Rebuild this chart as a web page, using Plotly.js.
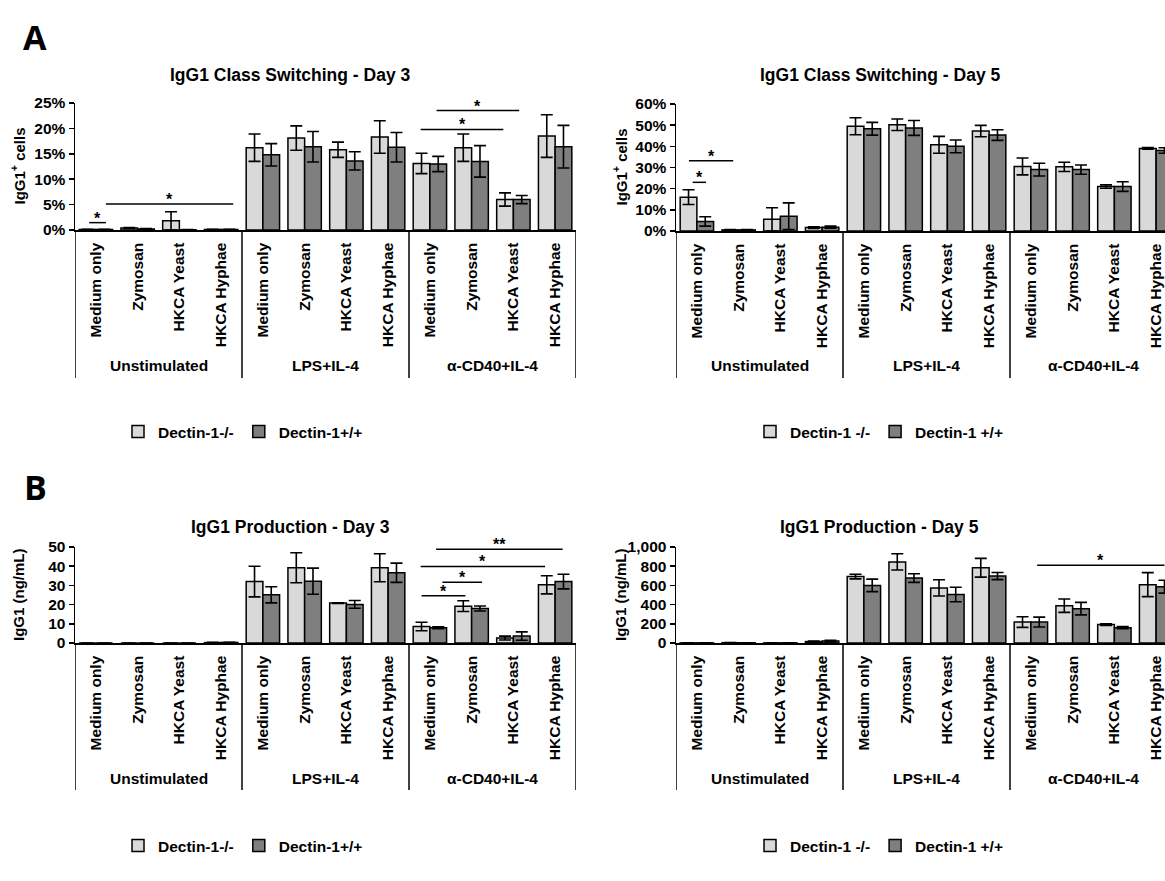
<!DOCTYPE html>
<html><head><meta charset="utf-8">
<script src="https://cdn.plot.ly/plotly-3.0.1.min.js"></script>
<style>html,body{margin:0;padding:0;overflow:hidden;background:#fff;} #chart{width:1200px;height:881px;}</style>
</head><body><div id="chart"></div>
<script>
// ---------- DATA ----------
const categories = ['Medium only','Zymosan','HKCA Yeast','HKCA Hyphae',
                    'Medium only','Zymosan','HKCA Yeast','HKCA Hyphae',
                    'Medium only','Zymosan','HKCA Yeast','HKCA Hyphae'];
const groups = ['Unstimulated','LPS+IL-4','α-CD40+IL-4'];
const namesLeft = ['Dectin-1-/-','Dectin-1+/+'];
const namesRight = ['Dectin-1 -/-','Dectin-1 +/+'];

// IgG1 Class Switching - Day 3 (% IgG1+ cells)
const sw3KO    = [0.1, 0.4, 1.8, 0.1, 16.2, 18.1, 15.8, 18.3, 13.1, 16.2, 6.0, 18.5];
const sw3KOErr = [0.05,0.1, 1.8, 0.05,2.7, 2.4, 1.5, 3.2, 2.0, 2.7, 1.3, 4.2];
const sw3WT    = [0.1, 0.2, 0.05,0.1, 14.8, 16.4, 13.6, 16.3, 13.0, 13.5, 6.0, 16.4];
const sw3WTErr = [0.05,0.1, 0.02,0.05,2.2, 3.0, 1.8, 2.9, 1.5, 3.1, 0.8, 4.2];

// IgG1 Class Switching - Day 5
const sw5KO    = [16.0, 0.5, 5.5, 1.6, 49.5, 50.2, 40.7, 47.2, 30.5, 30.3, 21.0, 39.0];
const sw5KOErr = [3.5, 0.2, 5.5, 0.4, 4.0, 2.7, 4.0, 2.7, 4.0, 2.2, 0.8, 0.4];
const sw5WT    = [4.5, 0.5, 7.0, 1.8, 48.3, 48.7, 40.0, 45.3, 29.0, 29.0, 21.0, 38.0];
const sw5WTErr = [2.2, 0.2, 6.3, 0.5, 3.0, 3.5, 3.0, 2.5, 3.0, 2.2, 2.3, 1.3];

// IgG1 Production - Day 3 (ng/mL)
const pr3KO    = [0, 0, 0, 0.2, 32.0, 39.2, 20.8, 39.2, 8.6, 19.2, 2.6, 30.3];
const pr3KOErr = [0, 0, 0, 0.1, 8.0, 7.8, 0.2, 7.3, 2.2, 2.8, 1.0, 4.7];
const pr3WT    = [0, 0, 0, 0.3, 25.1, 32.2, 20.1, 36.6, 8.0, 18.0, 3.6, 32.0];
const pr3WTErr = [0, 0, 0, 0.1, 4.2, 6.8, 2.0, 5.0, 0.5, 1.3, 2.2, 3.8];

// IgG1 Production - Day 5 (ng/mL)
const pr5KO    = [1, 3, 1, 15, 692, 845, 574, 784, 218, 389, 192, 608];
const pr5KOErr = [0, 2, 0, 5, 24, 85, 85, 98, 55, 70, 8, 125];
const pr5WT    = [1, 2, 1, 20, 600, 676, 505, 697, 218, 358, 160, 587];
const pr5WTErr = [0, 1, 0, 8, 65, 45, 75, 37, 52, 65, 12, 67];

// y-axis tick values
const ticksSw3 = [0, 5, 10, 15, 20, 25];
const ticksSw5 = [0, 10, 20, 30, 40, 50, 60];
const ticksPr3 = [0, 10, 20, 30, 40, 50];
const ticksPr5 = [0, 200, 400, 600, 800, 1000];

// significance brackets: [from, to, height, label]
const sigSw3 = [[-0.16, 0.24, 1.45, '*'], [0.24, 3.29, 5.1, '*'], [7.78, 9.76, 19.8, '*'], [8.16, 10.14, 23.5, '*']];
const sigSw5 = [[-0.10, 0.22, 23.0, '*'], [-0.19, 0.87, 33.2, '*']];
const sigPr3 = [[7.8, 8.85, 24.6, '*'], [8.3, 9.25, 31.6, '*'], [7.78, 10.76, 39.9, '*'], [8.15, 11.18, 48.8, '**']];
const sigPr5 = [[8.15, 11.2, 810, '*']];

// ---------- LAYOUT HELPERS ----------
const W = 1200, H = 881;
const px = v => v / W;
const py = v => 1 - v / H;
const FONT = 'Liberation Sans, Arial, Helvetica, sans-serif';
const LIGHT = '#d9d9d9', DARK = '#7f7f7f';
const xIdx = categories.map((c, i) => i);

const panels = [
  {ax:'', title:'IgG1 Class Switching - Day 3', tx:290, ty:75, xd:[75,576], yd:[230,103], tv:ticksSw3, lab:v => v + '%',
   ko:sw3KO, koE:sw3KOErr, wt:sw3WT, wtE:sw3WTErr, names:namesLeft, ytitle:'IgG1<sup>+</sup> cells', ytx:18, sig:sigSw3,
   divEnd:378, grpY:366, legX:118, legY:432},
  {ax:'2', title:'IgG1 Class Switching - Day 5', tx:880, ty:75, xd:[676,1177], yd:[231,104], tv:ticksSw5, lab:v => v + '%',
   ko:sw5KO, koE:sw5KOErr, wt:sw5WT, wtE:sw5WTErr, names:namesRight, ytitle:'IgG1<sup>+</sup> cells', ytx:620, sig:sigSw5,
   divEnd:378, grpY:366, legX:750, legY:432},
  {ax:'3', title:'IgG1 Production - Day 3', tx:290, ty:527, xd:[75,576], yd:[643,547], tv:ticksPr3, lab:v => String(v),
   ko:pr3KO, koE:pr3KOErr, wt:pr3WT, wtE:pr3WTErr, names:namesLeft, ytitle:'IgG1 (ng/mL)', ytx:18, sig:sigPr3,
   divEnd:790, grpY:778, legX:118, legY:846},
  {ax:'4', title:'IgG1 Production - Day 5', tx:880, ty:527, xd:[676,1177], yd:[643,547], tv:ticksPr5, lab:v => v.toLocaleString('en-US'),
   ko:pr5KO, koE:pr5KOErr, wt:pr5WT, wtE:pr5WTErr, names:namesRight, ytitle:'IgG1 (ng/mL)', ytx:620, sig:sigPr5,
   divEnd:790, grpY:778, legX:750, legY:846}
];

const traces = [];
const layout = {
  width: W, height: H, margin: {l:0, r:0, t:0, b:0},
  paper_bgcolor: '#fff', plot_bgcolor: 'rgba(0,0,0,0)',
  barmode: 'group', bargap: 0.2, bargroupgap: 0,
  font: {family: FONT, size: 15, color: '#000', weight: 'bold'},
  annotations: [], shapes: []
};

panels.forEach((p, pi) => {
  const xa = 'x' + p.ax, ya = 'y' + p.ax;
  const legName = pi === 0 ? 'legend' : 'legend' + (pi + 1);
  [[p.ko, p.koE, LIGHT, p.names[0]], [p.wt, p.wtE, DARK, p.names[1]]].forEach(([vals, errs, col, nm]) => {
    traces.push({
      type: 'bar', x: xIdx, y: vals, name: nm, xaxis: xa, yaxis: ya, legend: legName,
      marker: {color: col, line: {color: '#000', width: 1.5}},
      error_y: {type: 'data', array: errs, visible: true, color: '#000', thickness: 1.6, width: 6},
      hoverinfo: 'skip'
    });
  });
  layout['xaxis' + p.ax] = {
    domain: [px(p.xd[0]), px(p.xd[1])], anchor: ya, range: [-0.5, categories.length - 0.5],
    tickmode: 'array', tickvals: xIdx, ticktext: categories, tickangle: -90,
    ticks: 'outside', ticklen: 5, tickcolor: 'rgba(0,0,0,0)',
    tickfont: {family: FONT, size: 15.5, weight: 'bold', color: '#000'},
    showline: true, linecolor: '#000', linewidth: 1.5, showgrid: false, zeroline: false, fixedrange: true
  };
  layout['yaxis' + p.ax] = {
    domain: [py(p.yd[0]), py(p.yd[1])], anchor: xa, range: [p.tv[0], p.tv[p.tv.length - 1]],
    tickmode: 'array', tickvals: p.tv, ticktext: p.tv.map(p.lab),
    ticks: 'outside', ticklen: 5, tickwidth: 1.5, tickcolor: '#000',
    tickfont: {family: FONT, size: 15.5, weight: 'bold', color: '#000'},
    showline: true, linecolor: '#000', linewidth: 1.5, showgrid: false, zeroline: false, fixedrange: true
  };
  layout[legName] = {
    orientation: 'h', x: px(p.legX), y: py(p.legY), xanchor: 'left', yanchor: 'middle',
    font: {family: FONT, size: 15.5, weight: 'bold', color: '#000'}, bgcolor: 'rgba(0,0,0,0)',
    traceorder: 'normal', itemclick: false, itemwidth: 30
  };
  // y-axis title
  layout.annotations.push({text: p.ytitle, xref: 'paper', yref: 'paper', x: px(p.ytx), y: py((p.yd[0] + p.yd[1]) / 2),
    xanchor: 'center', yanchor: 'middle', textangle: -90, showarrow: false, font: {family: FONT, size: 15, weight: 'bold'}});
  // subplot title
  layout.annotations.push({text: p.title, xref: 'paper', yref: 'paper', x: px(p.tx), y: py(p.ty),
    xanchor: 'center', yanchor: 'middle', showarrow: false, font: {family: FONT, size: 17.5, weight: 'bold'}});
  // group dividers and labels
  for (let g = 0; g <= groups.length; g++) {
    const xb = g * 4 - 0.5;
    layout.shapes.push({type: 'line', xref: xa, yref: 'paper', x0: xb, x1: xb,
      y0: py(p.yd[0]), y1: py(p.divEnd), line: {color: '#000', width: 1.5}});
  }
  groups.forEach((gname, g) => {
    layout.annotations.push({text: gname, xref: xa, yref: 'paper', x: g * 4 + 1.5, y: py(p.grpY),
      xanchor: 'center', yanchor: 'middle', showarrow: false, font: {family: FONT, size: 15.5, weight: 'bold'}});
  });
  // significance brackets
  p.sig.forEach(([a, b, h, lab]) => {
    layout.shapes.push({type: 'line', xref: xa, yref: ya, x0: a, x1: b, y0: h, y1: h, line: {color: '#000', width: 1.5}});
    layout.annotations.push({text: lab, xref: xa, yref: ya, x: (a + b) / 2, y: h, xanchor: 'center', yanchor: 'bottom',
      yshift: -6, showarrow: false, font: {family: FONT, size: 16, weight: 'bold'}});
  });
});

// panel letters
layout.annotations.push({text: 'A', xref: 'paper', yref: 'paper', x: px(35), y: py(37), xanchor: 'center', yanchor: 'middle',
  showarrow: false, font: {family: 'Open Sans, Liberation Sans, sans-serif', size: 34, weight: 'bold'}});
layout.annotations.push({text: 'B', xref: 'paper', yref: 'paper', x: px(35), y: py(487), xanchor: 'center', yanchor: 'middle',
  showarrow: false, font: {family: 'Open Sans, Liberation Sans, sans-serif', size: 34, weight: 'bold'}});

Plotly.newPlot('chart', traces, layout, {displayModeBar: false, staticPlot: true});
</script>
</body></html>
